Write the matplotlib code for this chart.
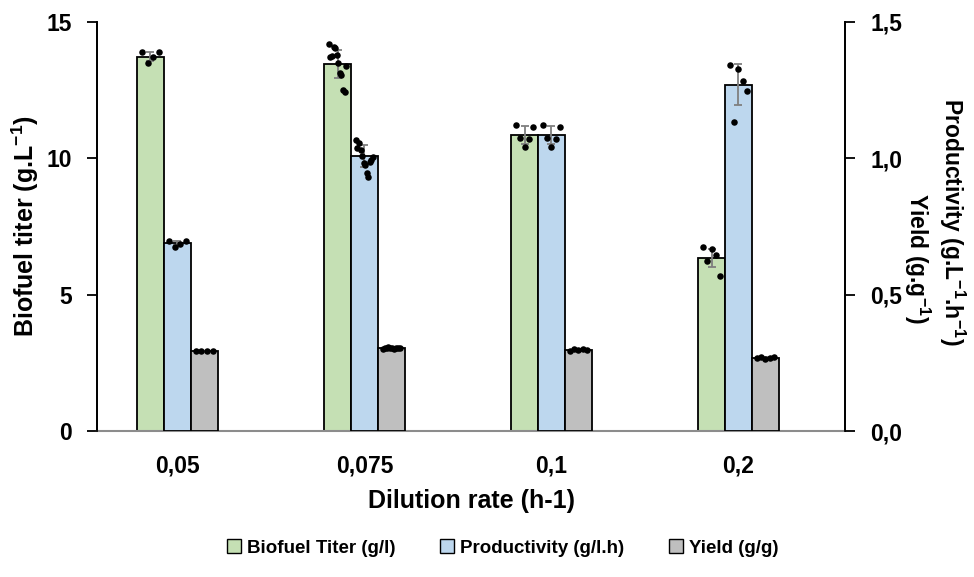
import matplotlib
matplotlib.use("Agg")
import matplotlib.pyplot as plt
import numpy as np
from matplotlib.patches import Patch

plt.rcParams['font.family'] = ['Liberation Sans', 'DejaVu Sans']
plt.rcParams['font.weight'] = 'bold'
plt.rcParams['mathtext.fontset'] = 'custom'
plt.rcParams['mathtext.rm'] = 'Liberation Sans:bold'
plt.rcParams['mathtext.bf'] = 'Liberation Sans:bold'
plt.rcParams['mathtext.default'] = 'rm'

categories = ["0,05", "0,075", "0,1", "0,2"]

titer = [13.73, 13.46, 10.85, 6.34]
titer_err = [0.15, 0.50, 0.33, 0.33]
titer_pts = [
    [13.9, 13.5, 13.7, 13.9],
    [14.2, 13.7, 13.75, 14.08, 14.04, 13.8, 13.5, 13.13, 13.05, 12.5, 12.43, 13.4],
    [11.22, 10.74, 10.42, 10.7, 11.15],
    [6.75, 6.23, 6.67, 6.45, 5.68],
]

productivity = [0.69, 1.008, 1.085, 1.269]
productivity_err = [0.008, 0.04, 0.033, 0.075]
productivity_pts = [
    [0.697, 0.675, 0.686, 0.697],
    [1.067, 1.038, 1.056, 1.03, 1.008, 0.983, 0.975, 0.946, 0.931, 0.986, 0.994, 1.004],
    [1.122, 1.074, 1.042, 1.07, 1.115],
    [1.342, 1.133, 1.327, 1.283, 1.247],
]

yield_ = [0.293, 0.304, 0.297, 0.268]
yield_err = [0.002, 0.003, 0.005, 0.003]
yield_pts = [
    [0.293, 0.293, 0.293, 0.293],
    [0.302, 0.306, 0.304, 0.307, 0.303, 0.305, 0.302, 0.306, 0.304, 0.303],
    [0.295, 0.300, 0.297, 0.302, 0.296],
    [0.266, 0.270, 0.265, 0.268, 0.270],
]

series_labels = ["Biofuel Titer (g/l)", "Productivity (g/l.h)", "Yield (g/g)"]
colors = ["#C5E0B4", "#BDD7EE", "#BFBFBF"]

W, H = 974, 577
fig = plt.figure(figsize=(W / 100, H / 100), dpi=100)
ax = fig.add_axes([0.0996, 0.253, 0.768, 0.709])
ax2 = ax.twinx()

x = np.arange(len(categories))
w = 0.144
offsets = [-w, 0, w]

def draw(axis, xs, vals, errs, pts, color):
    axis.bar(xs, vals, width=w, color=color, edgecolor="black", linewidth=1.3, zorder=2)
    axis.errorbar(xs, vals, yerr=errs, fmt="none", ecolor="#7F7F7F", elinewidth=1.3,
                  capsize=3, capthick=1.3, zorder=3)
    for xi, p in zip(xs, pts):
        n = len(p)
        jit = np.linspace(-0.32, 0.32, n) * w
        axis.scatter(xi + jit, p, s=22, color="black", zorder=4, linewidths=0)

draw(ax, x + offsets[0], titer, titer_err, titer_pts, colors[0])
draw(ax2, x + offsets[1], productivity, productivity_err, productivity_pts, colors[1])
draw(ax2, x + offsets[2], yield_, yield_err, yield_pts, colors[2])

ax.set_xlim(-0.43, len(categories) - 0.43)
ax.set_ylim(0, 15)
ax2.set_ylim(0, 1.5)
ax.set_yticks([0, 5, 10, 15])
ax2.set_yticks([0, 0.5, 1.0, 1.5])
ax2.set_yticklabels(["0,0", "0,5", "1,0", "1,5"])
ax.set_xticks(x)
ax.set_xticklabels(categories)

for a in (ax, ax2):
    a.spines['top'].set_visible(False)
    a.tick_params(axis='y', direction='out', length=7, width=1.3, labelsize=16.5, pad=11)
    for s in ('left', 'right'):
        a.spines[s].set_linewidth(1.3)
ax.tick_params(axis='x', length=0, labelsize=16.5, pad=17)
ax.spines['bottom'].set_color("#8C8C8C")
ax.spines['bottom'].set_linewidth(1.5)
ax2.spines['bottom'].set_visible(False)

ax.set_ylabel("Biofuel titer (g.L$^{-1}$)", fontsize=18, fontweight='bold', labelpad=4)
ax.set_xlabel("Dilution rate (h-1)", fontsize=18, fontweight='bold', labelpad=8)

# right-hand axis title (two lines, rotated)
fig.text(952 / W, 1 - 222 / H, "Productivity (g.L$^{-1}$.h$^{-1}$)", rotation=270,
         fontsize=16.5, fontweight='bold', ha='center', va='center')
fig.text(917 / W, 1 - 258 / H, "Yield (g.g$^{-1}$)", rotation=270,
         fontsize=16.5, fontweight='bold', ha='center', va='center')

handles = [Patch(facecolor=c, edgecolor="black", linewidth=1.0) for c in colors]
fig.legend(handles, series_labels, loc="center", bbox_to_anchor=(0.516, 0.05), ncol=3,
           frameon=False, fontsize=13.5, handlelength=0.75, handleheight=0.75,
           handletextpad=0.3, columnspacing=2.4)

fig.savefig("out.png", dpi=100)
